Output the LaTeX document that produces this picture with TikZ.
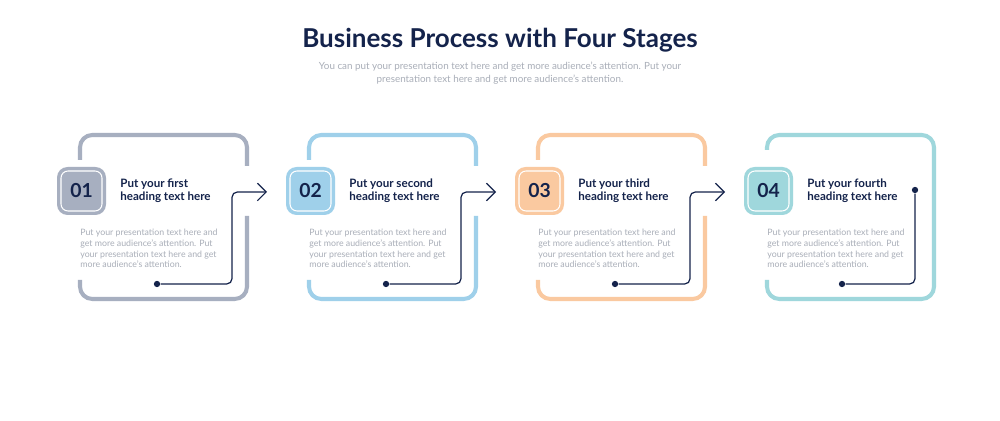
\documentclass[tikz,border=0pt]{standalone}
\usepackage{fontspec}
\setmainfont{Lato}
\usetikzlibrary{arrows.meta}
\definecolor{navy}{HTML}{14234B}
\definecolor{bodygrey}{HTML}{A9AEB8}
\definecolor{tileA}{HTML}{A7AFC0}
\definecolor{tileB}{HTML}{9FD0EA}
\definecolor{tileC}{HTML}{FAC9A0}
\definecolor{tileD}{HTML}{9FD7DC}
\tikzset{
  frame/.style={line width=2.3pt, rounded corners=7pt},
  numbox/.style={rounded corners=6pt},
  heading/.style={anchor=west, align=left, inner sep=0pt, text=navy, font=\fontsize{6.6}{7.4}\selectfont\bfseries},
  bodytext/.style={anchor=north west, align=left, inner sep=0pt, text=bodygrey, font=\fontsize{5.0}{6.05}\selectfont},
  link/.style={navy, line width=0.7pt, rounded corners=3pt},
  dot/.style={circle, fill=navy, inner sep=0pt, minimum size=3.6pt}
}
\begin{document}
\begin{tikzpicture}[x=0.02cm, y=-0.02cm]
  \useasboundingbox[fill=white] (0,0) rectangle (1000,421);

  \node[text=navy, font=\fontsize{14.8}{16}\selectfont\bfseries] (title) at (500,40) {Business Process with Four Stages};
  \node[text=bodygrey, align=center, font=\fontsize{5.6}{7.1}\selectfont] (subtitle) at (500,73)
    {You can put your presentation text here and get more audience's attention. Put your\\presentation text here and get more audience's attention.};

  \foreach \i/\col/\num/\word in {0/tileA/01/first, 1/tileB/02/second, 2/tileC/03/third, 3/tileD/04/fourth} {
    \begin{scope}[xshift=229*\i*0.02cm]
      % outline
      \ifnum\i<3
        \draw[frame, \col] (80,160) -- (80,135) -- (247,135) -- (247,166);
        \draw[frame, \col] (80,280) -- (80,299) -- (247,299) -- (247,216);
      \else
        \draw[frame, \col] (80,150) -- (80,135) -- (247,135) -- (247,299) -- (80,299) -- (80,280);
      \fi
      % number badge
      \fill[numbox, \col] (57,167) rectangle (106,215);
      \draw[numbox, white, line width=0.6pt, rounded corners=4pt] (61,171) rectangle (102,211);
      \node[text=navy, font=\fontsize{11}{12}\selectfont\bfseries] (num\i) at (81.5,191) {\num};
      \node[heading] (head\i) at (120,191) {Put your \word\\heading text here};
      \node[bodytext] (body\i) at (80,229) {Put your presentation text here and\\get more audience's attention. Put\\your presentation text here and get\\more audience's attention.};
      % connector
      \ifnum\i<3
        \node[dot] (start\i) at (157,284) {};
        \coordinate (end\i) at (267,192);
        \draw[link, -{Straight Barb[length=5pt, width=10pt]}] (start\i) -- (232,284) -- (232,192) -- (end\i);
      \else
        \node[dot] (start\i) at (155,284) {};
        \node[dot] (end\i) at (228,190) {};
        \draw[link] (start\i) -- (228,284) -- (end\i);
      \fi
    \end{scope}
  }
\end{tikzpicture}
\end{document}
